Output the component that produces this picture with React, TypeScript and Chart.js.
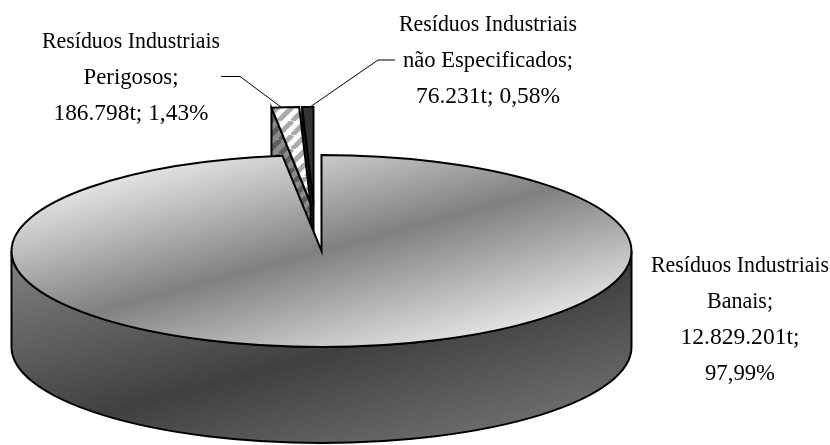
import React, { useEffect, useRef } from "react";
import { Chart, registerables } from "chart.js";

Chart.register(...registerables);

const categories = [
  "Resíduos Industriais Banais",
  "Resíduos Industriais Perigosos",
  "Resíduos Industriais não Especificados",
];
const tonnes = [12829201, 186798, 76231];

const labelLines = [
  ["Resíduos Industriais", "Banais;", "12.829.201t;", "97,99%"],
  ["Resíduos Industriais", "Perigosos;", "186.798t; 1,43%"],
  ["Resíduos Industriais", "não Especificados;", "76.231t; 0,58%"],
];
const labelWidths = [
  [178, 66, 119, 70],
  [178, 95, 155],
  [178, 170, 144],
];
const labelX = [740, 131, 488];
const labelBaseline = [272, 48, 31];
const LINE_STEP = 36;

const leaderLines = [
  [[221, 76.5], [240, 76.5], [281, 107]],
  [[395, 60], [378, 60], [310, 107]],
];

const PIE = { x: 321.5, y: 251, rx: 310, ry: 96, depth: 96 };
const explodeX = [0, -11, -8];
const explodeY = [0, -48, -48];
const drawOrder = [2, 1, 0];

const FONT = '24px "Liberation Serif"';
const AXIS = { x: 0.26, y: 0.966 };

function frame(chart: any) {
  const a = chart.chartArea;
  const R = Math.min(a.right - a.left, a.bottom - a.top) / 2;
  return {
    cx: (a.left + a.right) / 2,
    cy: (a.top + a.bottom) / 2,
    sx: PIE.rx / R,
    sy: PIE.ry / R,
  };
}

function hatchPattern(ctx: CanvasRenderingContext2D, base: string, stripe: string) {
  const size = 14;
  const c = document.createElement("canvas");
  c.width = size;
  c.height = size;
  const g = c.getContext("2d")!;
  g.fillStyle = base;
  g.fillRect(0, 0, size, size);
  g.strokeStyle = stripe;
  g.lineWidth = 5;
  for (const k of [-size, 0, size]) {
    g.beginPath();
    g.moveTo(k, size);
    g.lineTo(k + size, 0);
    g.stroke();
  }
  return ctx.createPattern(c, "repeat")!;
}

function topFill(c: any) {
  const chart = c.chart;
  if (!chart.chartArea) return "#808080";
  const ctx = chart.ctx;
  const t = frame(chart);
  if (c.dataIndex === 0) {
    const L = 135;
    const d0 = [PIE.x - AXIS.x * L, PIE.y - AXIS.y * L];
    const d1 = [PIE.x + AXIS.x * L, PIE.y + AXIS.y * L];
    const toSrc = (p: number[]) => [t.cx + (p[0] - PIE.x) / t.sx, t.cy + (p[1] - PIE.y) / t.sy];
    const p0 = toSrc(d0);
    const p1 = toSrc(d1);
    // keep the bands' slope on screen after the elliptical squeeze
    const v = [-(d1[1] - d0[1]) / t.sx, (d1[0] - d0[0]) / t.sy];
    const n = [v[1], -v[0]];
    const k = ((p1[0] - p0[0]) * n[0] + (p1[1] - p0[1]) * n[1]) / (n[0] * n[0] + n[1] * n[1]);
    const g = ctx.createLinearGradient(p0[0], p0[1], p0[0] + n[0] * k, p0[1] + n[1] * k);
    g.addColorStop(0, "#ececec");
    g.addColorStop(0.5, "#808080");
    g.addColorStop(1, "#ececec");
    return g;
  }
  if (c.dataIndex === 1) {
    const p = hatchPattern(ctx, "#ffffff", "#a8a8a8");
    p.setTransform(new DOMMatrix().scale(1 / t.sx, 1 / t.sy));
    return p;
  }
  return "#333333";
}

function wedge(ctx: CanvasRenderingContext2D, arc: any, i: number) {
  const x = PIE.x + explodeX[i];
  const y = PIE.y + explodeY[i];
  ctx.beginPath();
  ctx.moveTo(x, y);
  ctx.ellipse(x, y, PIE.rx, PIE.ry, 0, arc.startAngle, arc.endAngle);
  ctx.closePath();
}

function sliceSide(ctx: CanvasRenderingContext2D, arc: any, i: number, fill: any) {
  const x = PIE.x + explodeX[i];
  const y = PIE.y + explodeY[i];
  const ex = x + PIE.rx * Math.cos(arc.startAngle);
  const ey = y + PIE.ry * Math.sin(arc.startAngle);
  ctx.beginPath();
  ctx.moveTo(ex, ey);
  ctx.lineTo(x, y);
  ctx.lineTo(x, y + PIE.depth);
  ctx.lineTo(ex, ey + PIE.depth);
  ctx.closePath();
  ctx.fillStyle = fill;
  ctx.fill();
  ctx.stroke();
}

function frontWall(ctx: CanvasRenderingContext2D) {
  const { x, y, rx, ry, depth } = PIE;
  ctx.beginPath();
  ctx.ellipse(x, y + depth, rx, ry, 0, 0, Math.PI);
  ctx.lineTo(x - rx, y);
  ctx.ellipse(x, y, rx, ry, 0, Math.PI, 0, true);
  ctx.closePath();
  const L = 172;
  const cy = y + 104;
  const g = ctx.createLinearGradient(x - AXIS.x * L, cy - AXIS.y * L, x + AXIS.x * L, cy + AXIS.y * L);
  g.addColorStop(0, "#808080");
  g.addColorStop(0.5, "#404040");
  g.addColorStop(1, "#808080");
  ctx.fillStyle = g;
  ctx.fill();
  ctx.stroke();
}

const pie3d = {
  id: "pie3d",
  beforeDatasetsDraw(chart: any) {
    const ctx: CanvasRenderingContext2D = chart.ctx;
    const arcs = chart.getDatasetMeta(0).data;
    const t = frame(chart);
    ctx.save();
    ctx.strokeStyle = "#000000";
    ctx.lineWidth = 2;
    ctx.lineJoin = "miter";
    for (const i of drawOrder) {
      const arc = arcs[i];
      if (i === 0) frontWall(ctx);
      else sliceSide(ctx, arc, i, i === 1 ? hatchPattern(ctx, "#8c8c8c", "#5c5c5c") : "#1e1e1e");
      ctx.save();
      ctx.translate(PIE.x + explodeX[i], PIE.y + explodeY[i]);
      ctx.scale(t.sx, t.sy);
      ctx.translate(-t.cx, -t.cy);
      arc.draw(ctx);
      ctx.restore();
      wedge(ctx, arc, i);
      ctx.stroke();
    }
    ctx.lineWidth = 1;
    for (const line of leaderLines) {
      ctx.beginPath();
      line.forEach((p, k) => (k ? ctx.lineTo(p[0], p[1]) : ctx.moveTo(p[0], p[1])));
      ctx.stroke();
    }
    ctx.fillStyle = "#000000";
    ctx.font = FONT;
    ctx.textAlign = "center";
    ctx.textBaseline = "alphabetic";
    labelLines.forEach((lines, i) =>
      lines.forEach((s, k) => {
        // the source text is tall and condensed: fit each line to its measured width
        ctx.save();
        ctx.translate(labelX[i], labelBaseline[i] + k * LINE_STEP);
        ctx.scale(labelWidths[i][k] / ctx.measureText(s).width, 1);
        ctx.fillText(s, 0, 0);
        ctx.restore();
      })
    );
    ctx.restore();
    return false;
  },
};

export default function App() {
  const ref = useRef<HTMLCanvasElement>(null);
  useEffect(() => {
    const chart = new Chart(ref.current!, {
      type: "pie",
      data: {
        labels: categories,
        datasets: [{ data: tonnes, backgroundColor: topFill as any, borderWidth: 0 }],
      },
      options: {
        animation: false,
        responsive: false,
        events: [],
        layout: { padding: 0 },
        plugins: { legend: { display: false }, tooltip: { enabled: false } },
      },
      plugins: [pie3d],
    });
    return () => chart.destroy();
  }, []);
  return (
    <canvas
      ref={ref}
      width={830}
      height={445}
      style={{ position: "absolute", left: 0, top: 0, display: "block", background: "#ffffff" }}
    />
  );
}
